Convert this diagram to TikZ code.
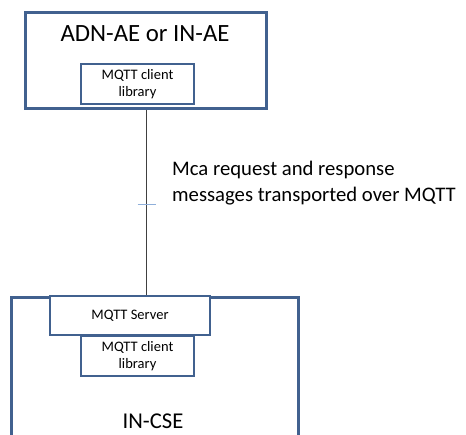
\documentclass[tikz,border=0pt]{standalone}
\usepackage{fontspec}
\setmainfont{Carlito}
\definecolor{boxblue}{HTML}{41618F}
\definecolor{tickblue}{HTML}{8FAFDA}
\definecolor{wire}{HTML}{404040}
\begin{document}
\begin{tikzpicture}[x=1pt,y=-1pt,
  frame/.style={draw=boxblue,line width=3pt,fill=white},
  libbox/.style={frame,line width=2.8pt,minimum width=113pt,minimum height=40pt,
    align=center,font=\fontsize{14.5}{16.5}\selectfont,inner sep=0pt},
  bigtext/.style={font=\fontsize{24.8}{28}\selectfont,inner sep=0pt}]
\useasboundingbox (0,0) rectangle (466,434);
\clip (0,0) rectangle (466,434);

% application entity on top
\node[frame,minimum width=241pt,minimum height=96pt,inner sep=0pt] (ae) at (145.5,60) {};
\node[bigtext,anchor=base] (aetitle) at (145,41) {ADN-AE or IN-AE};
\node[libbox] (aelib) at (137.5,84) {MQTT client\\library};

% infrastructure node CSE below
\node[frame,minimum width=287pt,minimum height=170pt,inner sep=0pt,anchor=north west] (cse) at (10,296) {};
\node[frame,line width=2.8pt,minimum width=160pt,minimum height=39pt,inner sep=0pt,
  font=\fontsize{14.5}{16.5}\selectfont] (server) at (130,315.5) {MQTT Server};
\node[libbox,minimum height=40pt] (cselib) at (137.5,356) {MQTT client\\library};
\node[font=\fontsize{22.6}{26}\selectfont,inner sep=0pt,anchor=base] (csetitle) at (153,428) {IN-CSE};

% Mca reference point
\coordinate (lx) at (146,0);
\draw[wire,line width=1pt] (ae.south -| lx) -- coordinate[pos=0.513] (mid) (server.north -| lx);
\draw[tickblue,line width=1.2pt] ([xshift=-8.5pt]mid) -- ([xshift=9.5pt]mid);
\node[anchor=base west,inner sep=0pt,align=left,font=\fontsize{20.7}{26.3}\selectfont] (mca) at (172,201.5)
  {Mca request and response\\messages transported over MQTT};
\end{tikzpicture}
\end{document}
